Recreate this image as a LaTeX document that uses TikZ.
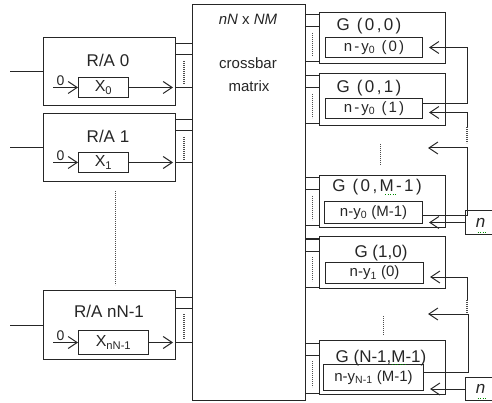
\documentclass[tikz,border=0pt]{standalone}
\usepackage{fontspec}
\setmainfont{Liberation Sans}
\newfontfamily\spacedsans[LetterSpace=14]{Liberation Sans}
\usetikzlibrary{arrows.meta}

\newcommand{\ttlsize}{\fontsize{17}{20}\selectfont}
\newcommand{\txtsize}{\fontsize{15}{18}\selectfont}

\begin{document}
\begin{tikzpicture}[x=1pt,y=-1pt,
    box/.style={draw=black!85, text=black!85, line width=1pt, inner sep=0pt, anchor=north west},
    ln/.style={draw=black!85, line width=1pt},
    fb/.style={ln, -{Straight Barb[length=9pt,width=12pt]}},
    dots/.style={draw=black!70, line width=1.2pt, dash pattern=on 0.8pt off 1.2pt},
    spell/.style={draw=green!55!black, line width=1pt, dash pattern=on 1pt off 1.5pt},
    ttl/.style={anchor=base, text=black!85, font=\ttlsize, inner sep=0pt},
    txt/.style={text=black!85, font=\txtsize}]
    \useasboundingbox (0,0) rectangle (492,403);
    \clip (0,0) rectangle (492,403);

    % crossbar
    \node[box, minimum width=113pt, minimum height=396pt] (xbar) at (192,4) {};
    \node[txt, anchor=base, inner sep=0pt] (xdim) at (248,25) {\textit{nN} x \textit{NM}};
    \node[txt, anchor=base, inner sep=0pt] (xlab1) at (248,69) {crossbar};
    \node[txt, anchor=base, inner sep=0pt] (xlab2) at (249,92) {matrix};

    % R/A blocks
    \node[box, minimum width=132pt, minimum height=68pt] (ra0) at (43,37) {};
    \node[box, minimum width=132pt, minimum height=68pt] (ra1) at (43,113) {};
    \node[box, minimum width=132pt, minimum height=69pt] (raN) at (43,290) {};
    \node[ttl] (ra0t) at (108,67) {R/A 0};
    \node[ttl] (ra1t) at (108,143) {R/A 1};
    \node[ttl] (raNt) at (109,317) {R/A nN-1};
    \node[box, minimum width=50pt, minimum height=20pt, font=\fontsize{16}{18}\selectfont] (x0) at (78,77) {X\textsubscript{0}};
    \node[box, minimum width=50pt, minimum height=20pt, font=\fontsize{16}{18}\selectfont] (x1) at (78,152) {X\textsubscript{1}};
    \node[box, minimum width=70pt, minimum height=24pt, font=\fontsize{16}{18}\selectfont] (xN) at (78,330) {X\textsubscript{nN-1}};

    \foreach \b/\x in {ra0/x0, ra1/x1, raN/xN} {
        \coordinate (s\b) at ([xshift=-33pt]\b.west);
        \draw[ln] (s\b) -- (\b);
        \coordinate (in\b) at ([xshift=-25pt]\x.west);
        \draw[fb] (in\b) node[anchor=south west, inner sep=1pt, xshift=2pt, text=black!85, font=\fontsize{14}{16}\selectfont] (z\b) {0} -- (\x);
        \draw[fb, shorten >=3pt] (\x) -- (\x -| \b.east);
        \path ([yshift=-7pt]\b.north east) coordinate (pa)
              ([yshift=-18pt]\b.north east) coordinate (pb)
              (\x -| \b.east) coordinate (pc);
        \draw[ln] (pa) -- (pa -| xbar.west) (pb) -- (pb -| xbar.west) (pc) -- (pc -| xbar.west);
        \path (pb) -- (pb -| xbar.west) coordinate[pos=0.5] (qa);
        \path (pc) -- (pc -| xbar.west) coordinate[pos=0.5] (qb);
        \draw[dots] ([yshift=-6pt]qa) -- ([yshift=3pt]qb);
    }
    \draw[dots] ([xshift=6pt,yshift=-9pt]ra1.south) -- ([xshift=6pt,yshift=5pt]raN.north);

    % G blocks
    \node[box, minimum width=126pt, minimum height=51pt] (g00) at (319,12) {};
    \node[box, minimum width=126pt, minimum height=52pt] (g01) at (319,73) {};
    \node[box, minimum width=126pt, minimum height=52pt] (g0M) at (319,175) {};
    \node[box, minimum width=126pt, minimum height=52pt] (g10) at (319,236) {};
    \node[box, minimum width=126pt, minimum height=54pt] (gNM) at (319,340) {};
    \node[ttl] (g00t) at (369,31) {\spacedsans G (0,0)};
    \node[ttl] (g01t) at (369,93) {\spacedsans G (0,1)};
    \node[ttl] (g0Mt) at (377,192) {\spacedsans G (0,M-1)};
    \node[ttl] (g10t) at (381,257) {G (1,0)};
    \node[ttl] (gNMt) at (381,362) {G (N-1,M-1)};
    \node[box, txt, minimum width=97pt, minimum height=20pt] (y00) at (325,37) {\spacedsans n-y\textsubscript{0} (0)};
    \node[box, txt, minimum width=97pt, minimum height=20pt] (y01) at (325,98) {\spacedsans n-y\textsubscript{0} (1)};
    \node[box, txt, minimum width=98pt, minimum height=22pt] (y0M) at (324,201) {n-y\textsubscript{0} (M-1)};
    \node[box, txt, minimum width=98pt, minimum height=21pt] (y10) at (325,262) {n-y\textsubscript{1} (0)};
    \node[box, txt, minimum width=100pt, minimum height=26pt] (yNM) at (323,364) {n-y\textsubscript{N-1} (M-1)};
    \draw[spell] ([xshift=8pt,yshift=-3pt]g0Mt.base) -- ([xshift=20pt,yshift=-3pt]g0Mt.base);
    \draw[spell] ([xshift=11pt,yshift=-2pt]gNMt.base) -- ([xshift=24pt,yshift=-2pt]gNMt.base);

    \foreach \g in {g00,g01,g0M,g10,gNM} {
        \path ([yshift=-3pt]\g.north west) coordinate (pa)
              ([yshift=-15pt]\g.north west) coordinate (pb)
              ([yshift=2pt]\g.south west) coordinate (pc);
        \draw[ln] (pa) -- (pa -| xbar.east) (pb) -- (pb -| xbar.east) (pc) -- (pc -| xbar.east);
        \path (pb) -- (pb -| xbar.east) coordinate[pos=0.5] (qa);
        \path (pc) -- (pc -| xbar.east) coordinate[pos=0.5] (qb);
        \draw[dots] ([yshift=-6pt]qa) -- ([yshift=6pt]qb);
    }
    \draw[dots] ([xshift=-2pt,yshift=-18pt]g01.south) -- ([xshift=-2pt,yshift=10pt]g0M.north);
    \draw[dots] ([xshift=1pt,yshift=-27pt]g10.south) -- ([xshift=1pt,yshift=5pt]gNM.north);

    % n inputs
    \node[box, minimum width=30pt, minimum height=24pt, font=\ttlsize\itshape] (n0) at (465,210) {n};
    \node[box, minimum width=30pt, minimum height=23pt, font=\ttlsize\itshape] (n1) at (465,377) {n};
    \draw[spell] ([xshift=-3pt,yshift=-10pt]n0.center) -- ([xshift=6pt,yshift=-10pt]n0.center);
    \draw[spell] ([xshift=-3pt,yshift=-9.5pt]n1.center) -- ([xshift=6pt,yshift=-9.5pt]n1.center);

    % feedback loops
    \coordinate (d0) at (467,127);
    \coordinate (gap0) at (428,148);
    \coordinate (d1) at (467,300);
    \coordinate (gap1) at (428,314);
    \draw[fb, shorten >=6pt] ([yshift=5pt]y01.east) -- ++(44,0) |- (y00.east);
    \draw[fb, shorten >=6pt] (d0) |- ([yshift=-4pt]y01.east);
    \draw[dots] (d0) -- ++(0,16);
    \draw[fb] ([yshift=-3pt]y0M.east) -- ++(44,0) |- (gap0);
    \draw[fb, shorten >=6pt] (n0) -- (n0 -| y0M.east);
    \draw[fb, shorten >=6pt] (d1) |- ([yshift=-4pt]y10.east);
    \draw[dots] (d1) -- ++(0,14);
    \draw[fb] ([yshift=5pt]yNM.east) -- ++(44,0) |- (gap1);
    \draw[fb, shorten >=6pt] (n1) -- (n1 -| yNM.east);
\end{tikzpicture}
\end{document}
